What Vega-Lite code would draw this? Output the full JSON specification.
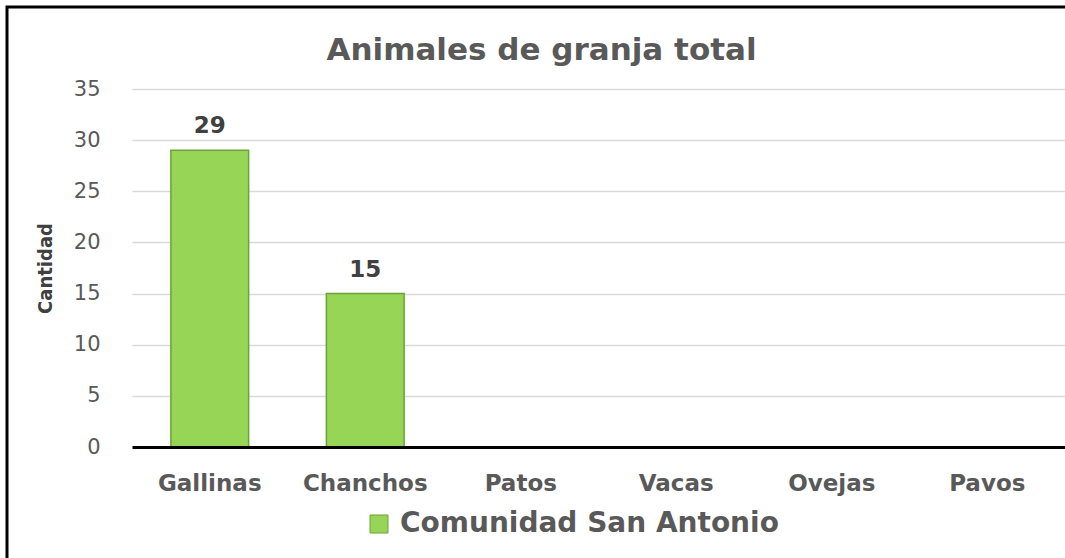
{
  "$schema": "https://vega.github.io/schema/vega-lite/v6.json",
  "width": 933,
  "height": 358,
  "autosize": {"type": "none"},
  "padding": {"left": 132, "top": 89, "right": 0, "bottom": 111},
  "background": "white",
  "title": {
    "text": "Animales de granja total",
    "font": "DejaVu Sans",
    "fontSize": 31,
    "fontWeight": "bold",
    "color": "#595959",
    "anchor": "middle",
    "frame": "group",
    "dx": -57,
    "baseline": "alphabetic",
    "offset": -85
  },
  "config": {
    "view": {"stroke": null},
    "legend": {"strokeWidth": 3}
  },
  "data": {
    "values": [
      {"animal": "Gallinas", "cantidad": 29, "serie": "Comunidad San Antonio"},
      {"animal": "Chanchos", "cantidad": 15, "serie": "Comunidad San Antonio"},
      {"animal": "Patos", "cantidad": 0, "serie": "Comunidad San Antonio"},
      {"animal": "Vacas", "cantidad": 0, "serie": "Comunidad San Antonio"},
      {"animal": "Ovejas", "cantidad": 0, "serie": "Comunidad San Antonio"},
      {"animal": "Pavos", "cantidad": 0, "serie": "Comunidad San Antonio"}
    ]
  },
  "encoding": {
    "x": {
      "field": "animal",
      "type": "nominal",
      "sort": null,
      "scale": {"paddingInner": 0.5, "paddingOuter": 0.25},
      "axis": {
        "title": null,
        "labelAngle": 0,
        "labelFont": "DejaVu Sans",
        "labelFontSize": 23,
        "labelFontWeight": "bold",
        "labelColor": "#595959",
        "labelPadding": 25,
        "ticks": false,
        "domain": true,
        "domainColor": "black",
        "domainWidth": 3,
        "grid": false,
        "zindex": 1
      }
    },
    "y": {
      "field": "cantidad",
      "type": "quantitative",
      "scale": {"domain": [0, 35], "nice": false},
      "axis": {
        "title": "Cantidad",
        "titleFont": "DejaVu Sans Condensed",
        "titleFontSize": 20,
        "titleFontWeight": "bold",
        "titleColor": "#404040",
        "titlePadding": 18,
        "values": [0, 5, 10, 15, 20, 25, 30, 35],
        "labelFont": "DejaVu Sans",
        "labelFontSize": 21,
        "labelColor": "#595959",
        "labelPadding": 32,
        "ticks": false,
        "domain": false,
        "grid": true,
        "gridColor": "#d9d9d9",
        "gridWidth": 1.5
      }
    }
  },
  "layer": [
    {
      "mark": {"type": "bar", "strokeWidth": 1.5},
      "encoding": {
        "fill": {
          "field": "serie",
          "type": "nominal",
          "scale": {"range": ["#96d555"]},
          "legend": {
            "title": null,
            "orient": "none",
            "legendX": 233,
            "legendY": 421,
            "padding": 0,
            "symbolType": "square",
            "symbolSize": 324,
            "symbolStrokeColor": "#6aa33a",
            "symbolStrokeWidth": 1,
            "labelFont": "DejaVu Sans",
            "labelFontSize": 28,
            "labelFontWeight": "bold",
            "labelColor": "#595959",
            "labelOffset": 7,
            "labelLimit": 600
          }
        },
        "stroke": {
          "field": "animal",
          "type": "nominal",
          "sort": null,
          "scale": {"range": ["#6aa33a"]},
          "legend": {
            "title": null,
            "orient": "none",
            "legendX": -125,
            "legendY": -82,
            "padding": 800,
            "strokeColor": "black",
            "cornerRadius": 0,
            "labelExpr": "''",
            "symbolOpacity": 0
          }
        }
      }
    },
    {
      "transform": [{"filter": "datum.cantidad > 0"}],
      "mark": {
        "type": "text",
        "font": "DejaVu Sans",
        "fontSize": 23,
        "fontWeight": "bold",
        "color": "#404040",
        "baseline": "alphabetic",
        "dy": -17
      },
      "encoding": {
        "text": {"field": "cantidad", "type": "quantitative"}
      }
    }
  ]
}
